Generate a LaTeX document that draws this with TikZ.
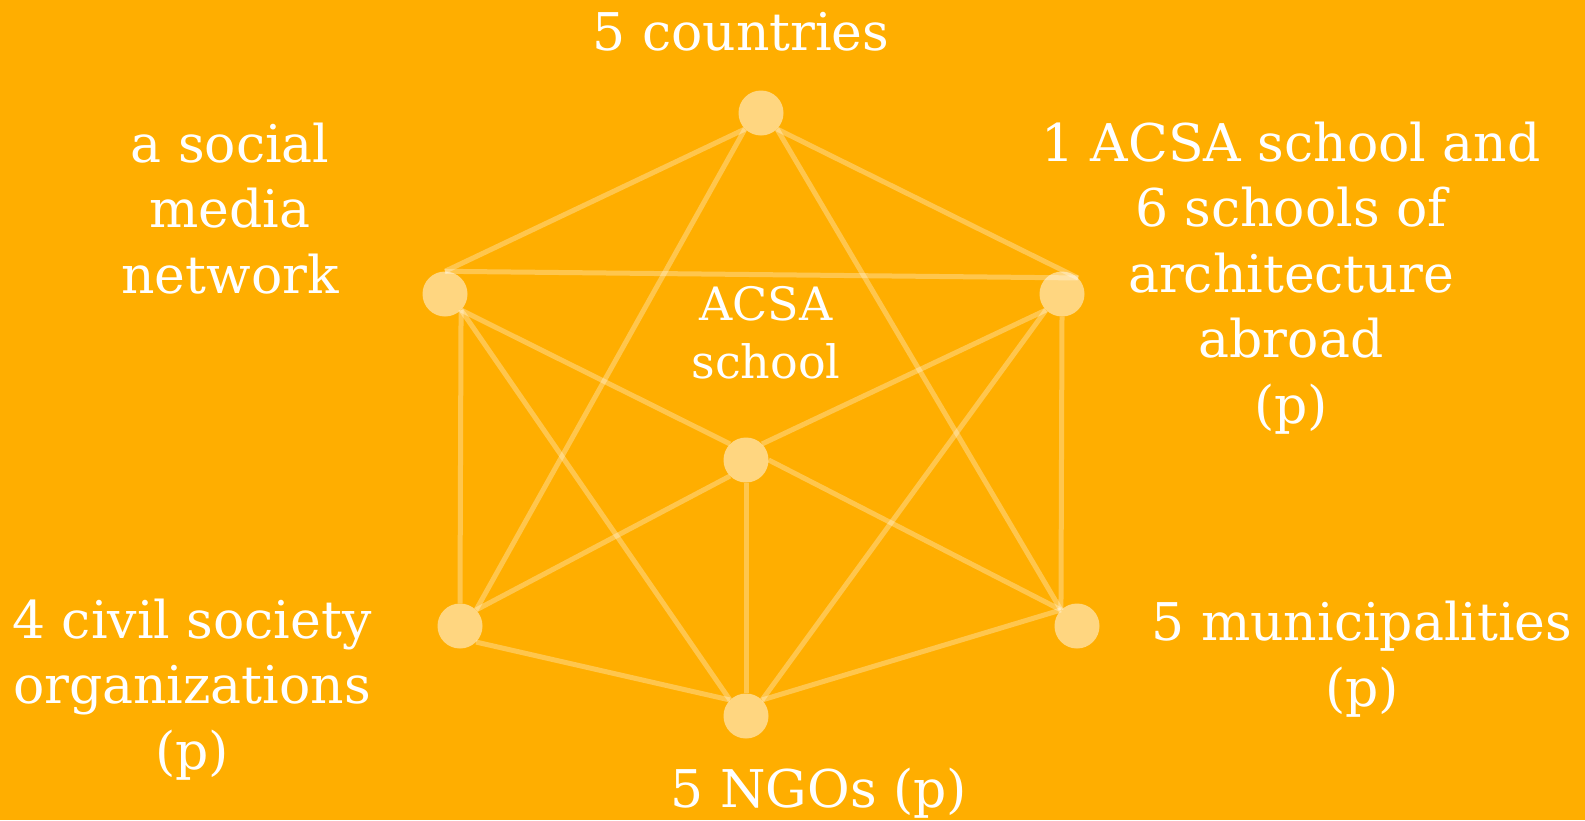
\documentclass[tikz,border=0pt]{standalone}
\usepackage{fontspec}
\setmainfont{DejaVu Serif}
\usepackage{tikz}

\definecolor{bgorange}{HTML}{FFAE00}
\tikzset{
  dot/.style={circle,fill=white,fill opacity=0.5,minimum size=45pt,inner sep=0pt},
  link/.style={white,opacity=0.3,line width=5pt},
  lbl/.style={text=white,align=center,inner sep=0pt,
    font=\fontsize{52}{65.5}\selectfont},
  lblsmall/.style={lbl,font=\fontsize{46}{58}\selectfont}
}

\begin{document}
\begin{tikzpicture}[x=1pt,y=-1pt]
  \fill[bgorange] (0,0) rectangle (1585,820);
  \useasboundingbox (0,0) rectangle (1585,820);
  % the seven partners
  \node[dot] (T) at (761,113) {};
  \node[dot] (L) at (445,294) {};
  \node[dot] (R) at (1062,294) {};
  \node[dot] (C) at (746,460) {};
  \node[dot] (BL) at (460,626) {};
  \node[dot] (BR) at (1077,626) {};
  \node[dot] (B) at (746,716) {};
  % every link
  \foreach \a/\b in {T.south west/L.north, T.south west/BL.north east,
      T.south east/R.north east, T.south east/BR.north west,
      L.north/R.north east, L.south east/C.north west,
      L.south east/BL.north, L.south east/B.north west,
      R.south west/C.north east, R.south west/B.north east,
      R.south/BR.north west, C.south west/BL.north east,
      C.east/BR.north west, C.south/B.north,
      BL.south east/B.north west, BR.north west/B.north east}
    \draw[link] (\a) -- (\b);
  % labels (base = last line)
  \node[lbl,anchor=base] (countries) at (741,50) {5 countries};
  \node[lbl,anchor=base] (social) at (230,293) {a social\\media\\network};
  \node[lbl,anchor=base] (schools) at (1291,423)
    {1 ACSA school and\\6 schools of\\architecture\\abroad\\(p)};
  \node[lblsmall,anchor=base] (acsa) at (766,378) {ACSA\\school};
  \node[lbl,anchor=base] (civil) at (192,769)
    {4 civil society\\organizations\\(p)};
  \node[lbl,anchor=base] (munic) at (1362,706) {5 municipalities\\(p)};
  \node[lbl,anchor=base] (ngos) at (819,807) {5 NGOs (p)};
\end{tikzpicture}
\end{document}
